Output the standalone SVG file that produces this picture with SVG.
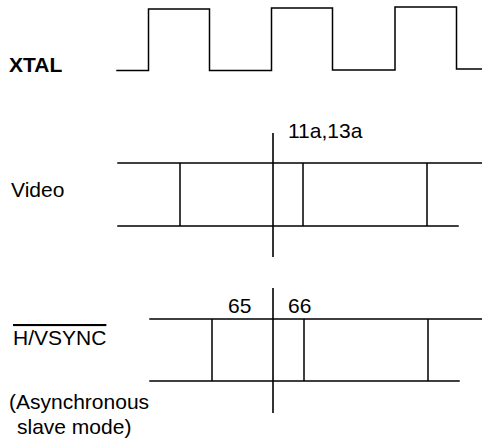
<svg xmlns="http://www.w3.org/2000/svg" width="482" height="444" viewBox="0 0 482 444">
<style>
.w{fill:none;stroke:#000;stroke-width:1.5;stroke-linecap:square}
.m{fill:none;stroke:#000;stroke-width:1.6}
text{font-family:"Liberation Sans",Arial,Helvetica,sans-serif;font-size:21px;fill:#000}
</style>
<rect width="482" height="444" fill="#fff"/>
<g id="xtal">
<text x="9" y="72" font-weight="bold">XTAL</text>
<path class="w" d="M117,70.5 H148.5 V9 H209.5 V70.5 H271.5 V8 H332.5 V70 H395 V7 H456.5 V69 H482"/>
</g>
<g id="video">
<text x="11" y="197">Video</text>
<path class="w" d="M118,163 H482 M118,226 H458 M180,163 V226 M303,163 V226 M427,163 V226"/>
<path class="m" d="M273,133 V257"/>
<text x="288" y="138">11a,13a</text>
</g>
<g id="hvsync">
<text x="13" y="345" text-decoration="overline">H/VSYNC</text>
<path class="w" d="M150,319 H482 M150,381 H459 M212,319 V381 M304,319 V381 M428,319 V381"/>
<path class="m" d="M273,288 V413"/>
<text x="228" y="313">65</text>
<text x="288" y="313">66</text>
<text x="9" y="409">(Asynchronous</text>
<text x="17" y="434">slave mode)</text>
</g>
</svg>
